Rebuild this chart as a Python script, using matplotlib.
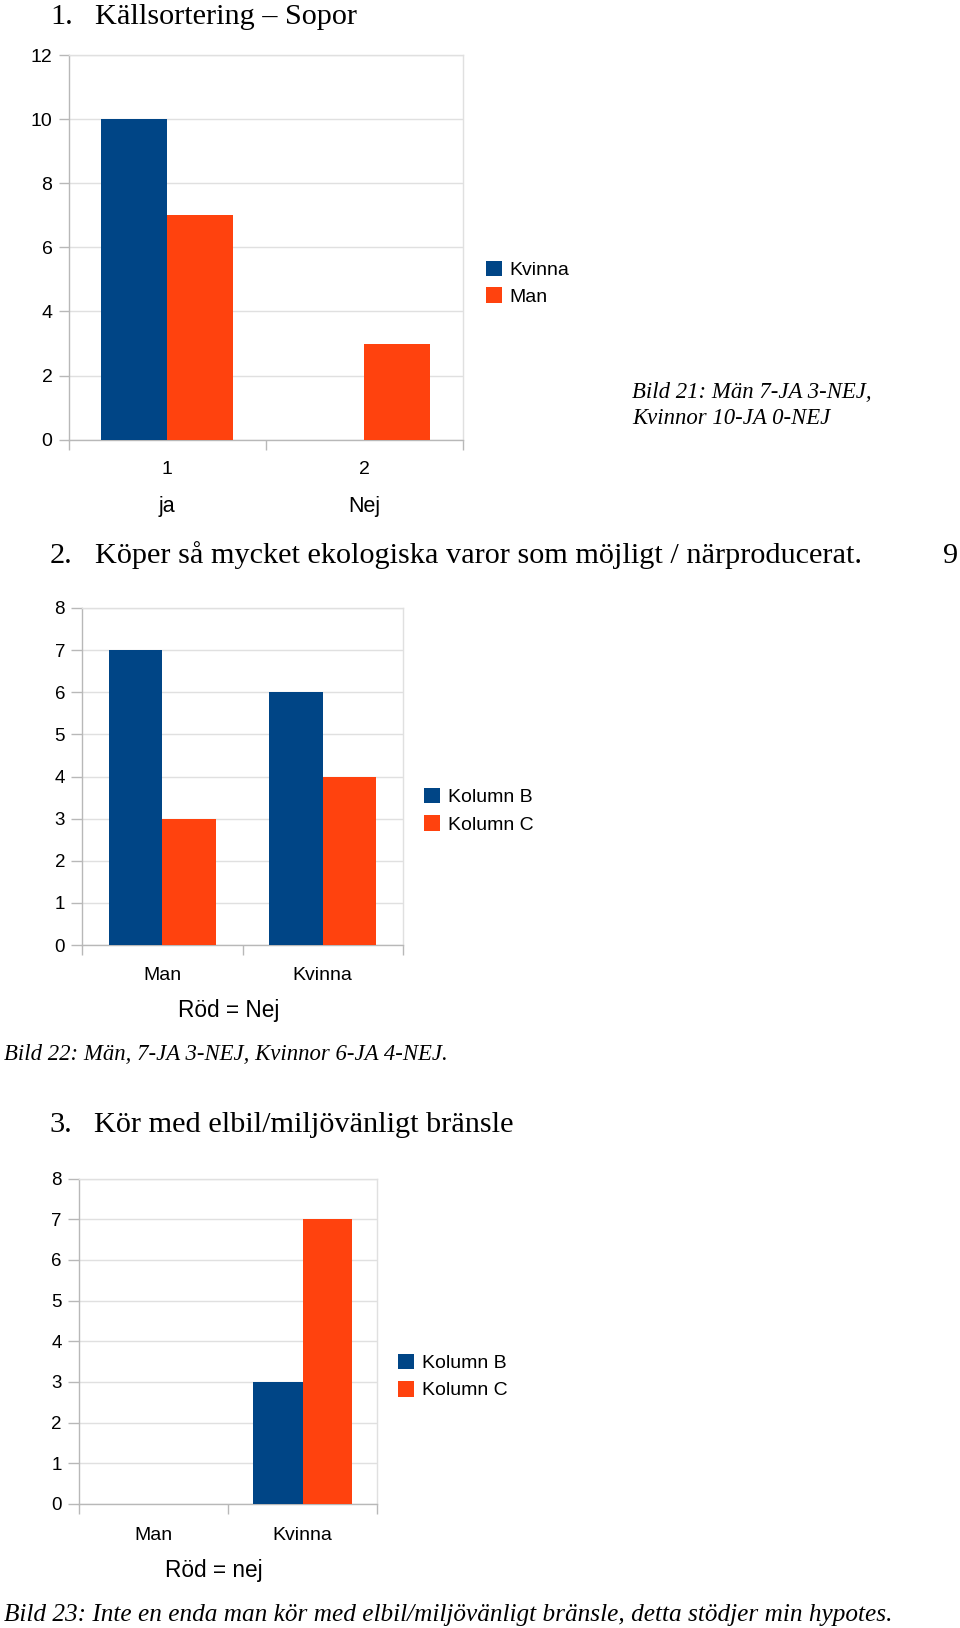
import numpy as np
import matplotlib
matplotlib.use("Agg")
import matplotlib.pyplot as plt

# ---------------- data ----------------
c1_ticks = ["1", "2"]
c1_row2 = ["ja", "Nej"]
c1_kvinna = [10, 0]
c1_man = [7, 3]
c1_series = ["Kvinna", "Man"]

c2_cats = ["Man", "Kvinna"]
c2_colB = [7, 6]
c2_colC = [3, 4]
c2_series = ["Kolumn B", "Kolumn C"]

c3_cats = ["Man", "Kvinna"]
c3_colB = [0, 3]
c3_colC = [0, 7]
c3_series = ["Kolumn B", "Kolumn C"]

# ---------------- style ----------------
W, H = 960, 1628
DPI = 100
BLUE = "#004586"
ORANGE = "#FF420E"
GRID = "#e0e0e0"
AXC = "#b8b8b8"
SANS = ["Liberation Sans", "DejaVu Sans"]
SERIF = ["Liberation Serif", "DejaVu Serif"]
PT = 72.0 / DPI  # px -> pt

fig = plt.figure(figsize=(W / DPI, H / DPI), dpi=DPI)
fig.patch.set_facecolor("white")


def rect(x0, y0, x1, y1):
    return [x0 / W, 1 - y1 / H, (x1 - x0) / W, (y1 - y0) / H]


def fx(x):
    return x / W


def fy(y):
    return 1 - y / H


def chart(box, cats, s1, s2, names, ymax, step, xpad_px, xfs, yfs, ytl):
    ax = fig.add_axes(rect(*box))
    x = np.arange(len(cats))
    w = 1 / 3
    b1 = ax.bar(x - w / 2, s1, w, color=BLUE, label=names[0], zorder=3)
    b2 = ax.bar(x + w / 2, s2, w, color=ORANGE, label=names[1], zorder=3)
    ax.set_xlim(-0.5, len(cats) - 0.5)
    ax.set_ylim(0, ymax)
    ax.set_yticks(np.arange(0, ymax + 1, step))
    ax.set_xticks(x)
    ax.set_xticklabels(cats)
    ax.set_xticks(np.arange(len(cats) + 1) - 0.5, minor=True)
    ax.tick_params(axis="x", which="major", length=0, pad=xpad_px * PT,
                   labelsize=xfs)
    ax.tick_params(axis="x", which="minor", length=10 * PT, width=1,
                   color=AXC, direction="out")
    ax.tick_params(axis="y", length=ytl * PT, width=1, color=AXC,
                   pad=5.5 * PT, labelsize=yfs)
    for lab in ax.get_xticklabels() + ax.get_yticklabels():
        lab.set_family(SANS)
    ax.grid(axis="y", color=GRID, lw=1, zorder=0)
    ax.set_axisbelow(True)
    for s in ["top", "right"]:
        ax.spines[s].set_color(GRID)
        ax.spines[s].set_linewidth(1)
    for s in ["left", "bottom"]:
        ax.spines[s].set_color(AXC)
        ax.spines[s].set_linewidth(1)
    return ax, [b1, b2]


def legend(handles, names, x_px, y_px, spacing=0.44):
    fig.legend(handles, names, loc="upper left",
               bbox_to_anchor=(fx(x_px), fy(y_px)),
               bbox_transform=fig.transFigure,
               frameon=False, borderpad=0, borderaxespad=0,
               handlelength=0.823, handleheight=0.889, handletextpad=0.4,
               labelspacing=spacing, prop={"family": SANS, "size": 14})


def title(num, txt, xn, xt, yb, fs=21.8):
    fig.text(fx(xn), fy(yb), num, family=SERIF, fontsize=fs,
             va="baseline", ha="left")
    fig.text(fx(xt), fy(yb), txt, family=SERIF, fontsize=fs,
             va="baseline", ha="left")


def caption(lines, x, yb, fs, dy=26):
    for i, ln in enumerate(lines):
        fig.text(fx(x), fy(yb + i * dy), ln, family=SERIF, style="italic",
                 fontsize=fs, va="baseline", ha="left")


def xlabel(ax, txt, box, xc, yb):
    x0, y0, x1, y1 = box
    ax.set_xlabel(txt, family=SANS, fontsize=16.3, va="baseline",
                  ha="center")
    ax.xaxis.set_label_coords((xc - x0) / (x1 - x0), -(yb - y1) / (y1 - y0))


# ---------------- chart 1 ----------------
title("1.", "Källsortering – Sopor", 50, 95, 24)
box1 = (68.5, 55, 463, 439.7)
ax1, h1 = chart(box1, c1_ticks, c1_kvinna, c1_man, c1_series,
                12, 2, 21, 14, 14, 10.5)
for i, t in enumerate(c1_row2):
    ax1.annotate(t, xy=(i, 0), xycoords=ax1.get_xaxis_transform(),
                 xytext=(0, -(512 - box1[3]) * PT), textcoords="offset points",
                 ha="center", va="baseline", family=SANS, fontsize=15.5)
legend(h1, c1_series, 486, 260.5, 0.40)
caption(["Bild 21: Män 7-JA 3-NEJ,", "Kvinnor 10-JA 0-NEJ"], 632.5, 398,
        16.4, dy=25.5)

# ---------------- chart 2 ----------------
title("2.", "Köper så mycket ekologiska varor som möjligt / närproducerat.",
      49.3, 95, 563)
fig.text(fx(951), fy(563), "9", family=SERIF, fontsize=21.8, va="baseline",
         ha="center")
box2 = (82, 608, 403, 945)
ax2, h2 = chart(box2, c2_cats, c2_colB, c2_colC, c2_series,
                8, 1, 22, 14, 13.5, 11.5)
xlabel(ax2, "Röd = Nej", box2, 228.6, 1016.5)
legend(h2, c2_series, 424.3, 787.5, 0.46)
caption(["Bild 22: Män, 7-JA 3-NEJ, Kvinnor 6-JA 4-NEJ."], 4, 1060, 16.4)

# ---------------- chart 3 ----------------
title("3.", "Kör med elbil/miljövänligt bränsle", 49.3, 94.3, 1132)
box3 = (79, 1178.5, 377, 1504)
ax3, h3 = chart(box3, c3_cats, c3_colB, c3_colC, c3_series,
                8, 1, 22.5, 14, 13.5, 11.5)
xlabel(ax3, "Röd = nej", box3, 214, 1576.5)
legend(h3, c3_series, 398, 1353.5, 0.44)
caption(["Bild 23: Inte en enda man kör med elbil/miljövänligt bränsle, "
         "detta stödjer min hypotes."], 4, 1621, 18.2)

fig.savefig("out.png", dpi=DPI, facecolor="white")
